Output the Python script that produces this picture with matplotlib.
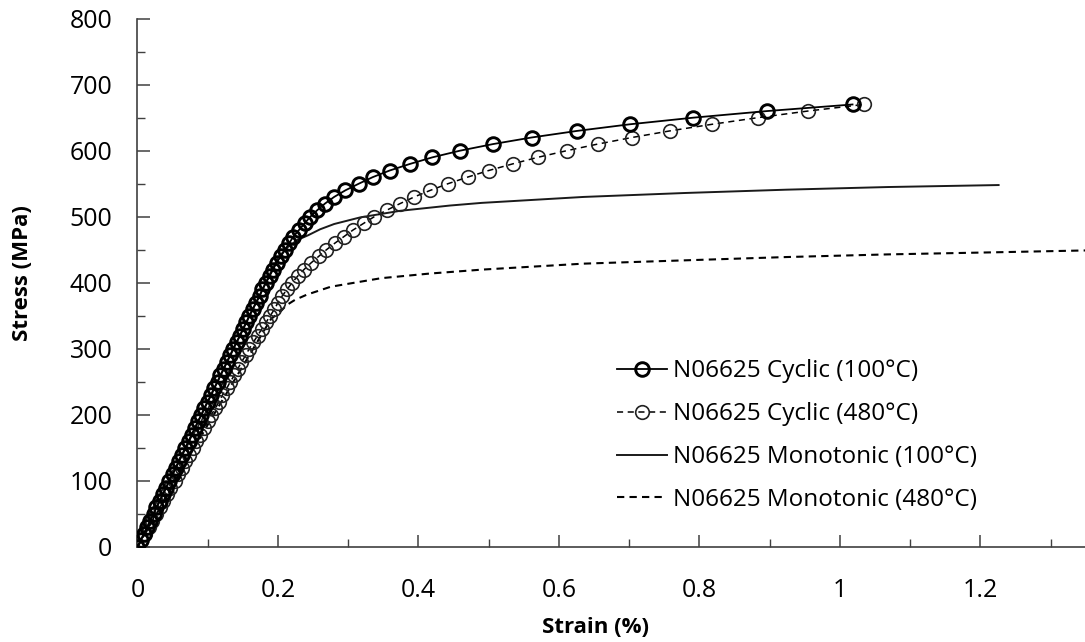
import matplotlib
matplotlib.use("Agg")
import matplotlib.pyplot as plt
from matplotlib.ticker import MultipleLocator

plt.rcParams['font.family'] = ['Open Sans', 'DejaVu Sans']

# Cyclic curves: stress levels (MPa) and read strains (%)
cyc_stress = [0, 10, 20, 30, 40, 50, 60, 70, 80, 90, 100, 110, 120, 130, 140, 150, 160, 170,
              180, 190, 200, 210, 220, 230, 240, 250, 260, 270, 280, 290, 300, 310, 320, 330,
              340, 350, 360, 370, 380, 390, 400, 410, 420, 430, 440, 450, 460, 470, 480, 490,
              500, 510, 520, 530, 540, 550, 560, 570, 580, 590, 600, 610, 620, 630, 640, 650,
              660, 670]
cyc100_strain = [0, 0.005, 0.009, 0.014, 0.018, 0.023, 0.027, 0.032, 0.036, 0.041, 0.045, 0.050,
                 0.055, 0.059, 0.064, 0.068, 0.073, 0.077, 0.082, 0.086, 0.091, 0.095, 0.100,
                 0.105, 0.109, 0.114, 0.118, 0.123, 0.127, 0.132, 0.136, 0.141, 0.146, 0.150,
                 0.155, 0.159, 0.164, 0.169, 0.174, 0.178, 0.183, 0.188, 0.193, 0.198, 0.204,
                 0.210, 0.216, 0.222, 0.230, 0.238, 0.246, 0.256, 0.267, 0.280, 0.296, 0.315,
                 0.335, 0.359, 0.388, 0.420, 0.459, 0.506, 0.561, 0.626, 0.701, 0.791, 0.896,
                 1.018]
cyc480_strain = [0, 0.005, 0.011, 0.016, 0.021, 0.026, 0.032, 0.037, 0.042, 0.047, 0.053, 0.058,
                 0.063, 0.068, 0.074, 0.079, 0.084, 0.089, 0.095, 0.100, 0.105, 0.111, 0.116,
                 0.121, 0.127, 0.132, 0.138, 0.143, 0.148, 0.154, 0.159, 0.165, 0.171, 0.177,
                 0.183, 0.189, 0.195, 0.200, 0.206, 0.213, 0.220, 0.228, 0.237, 0.247, 0.258,
                 0.269, 0.281, 0.294, 0.307, 0.322, 0.337, 0.355, 0.374, 0.394, 0.417, 0.442,
                 0.470, 0.500, 0.534, 0.570, 0.611, 0.655, 0.704, 0.758, 0.818, 0.883, 0.954,
                 1.034]

# Monotonic curves
mono100_strain = [0, 0.1, 0.2, 0.215, 0.228, 0.243, 0.26, 0.28, 0.317, 0.374, 0.445, 0.49,
                  0.635, 0.78, 0.924, 1.068, 1.226]
mono100_stress = [0, 220, 438, 455, 465, 472, 481, 489, 499, 509, 517, 521,
                  530, 536, 541, 545, 548]
mono480_strain = [0, 0.1, 0.19, 0.205, 0.212, 0.224, 0.241, 0.275, 0.347, 0.416, 0.491, 0.635,
                  0.779, 0.924, 1.068, 1.212, 1.35]
mono480_stress = [0, 185, 345, 358, 366, 374, 382, 394, 407, 414, 420, 429,
                  434, 439, 443, 446, 449]

labels = ["N06625 Cyclic (100°C)", "N06625 Cyclic (480°C)",
          "N06625 Monotonic (100°C)", "N06625 Monotonic (480°C)"]

fig = plt.figure(figsize=(10.85, 6.42), dpi=100)
ax = fig.add_axes([0.1267, 0.148, 0.8733, 0.823])

ax.plot(cyc100_strain, cyc_stress, color='black', lw=1.3, marker='o', ms=9.8,
        mfc='none', mec='black', mew=2.1, label=labels[0], zorder=4)
ax.plot(cyc480_strain, cyc_stress, color='black', lw=1.1, ls=(0, (4, 3)), marker='o', ms=9.8,
        mfc='none', mec='#222222', mew=1.2, label=labels[1], zorder=3)
ax.plot(mono100_strain, mono100_stress, color='#1a1a1a', lw=1.4, label=labels[2], zorder=2)
ax.plot(mono480_strain, mono480_stress, color='black', lw=1.5, ls=(0, (3.5, 2.5)),
        label=labels[3], zorder=2)

ax.set_xlim(0, 1.349)
ax.set_ylim(0, 800)
ax.xaxis.set_minor_locator(MultipleLocator(0.1))
ax.yaxis.set_minor_locator(MultipleLocator(50))
ax.set_xticks([0, 0.2, 0.4, 0.6, 0.8, 1.0, 1.2])
ax.set_xticklabels(['0', '0.2', '0.4', '0.6', '0.8', '1', '1.2'])
ax.set_yticks(range(0, 801, 100))
ax.set_yticklabels([str(v) for v in range(0, 801, 100)])

for s in ['top', 'right']:
    ax.spines[s].set_visible(False)
for s in ['left', 'bottom']:
    ax.spines[s].set_color('#404040')
    ax.spines[s].set_linewidth(1.2)
ax.tick_params(axis='both', which='major', direction='in', length=9, width=1.1,
               color='#404040', labelsize=18)
ax.tick_params(axis='both', which='minor', direction='in', length=6, width=1.0, color='#404040')
ax.tick_params(axis='y', which='major', pad=18)
ax.tick_params(axis='x', which='major', pad=22)

ax.set_xlabel('Strain (%)', fontsize=16, fontweight='bold', va='top')
ax.xaxis.set_label_coords(0.483, -0.1325)
ax.set_ylabel('Stress (MPa)', fontsize=16, fontweight='bold')
ax.yaxis.set_label_coords(-0.1098, 0.5176)

leg = ax.legend(loc='upper left', bbox_to_anchor=(0.496, 0.374), frameon=False, fontsize=17.5,
                handlelength=2.06, handletextpad=0.25, labelspacing=0.78, borderaxespad=0)

fig.savefig('out.png', dpi=100)
